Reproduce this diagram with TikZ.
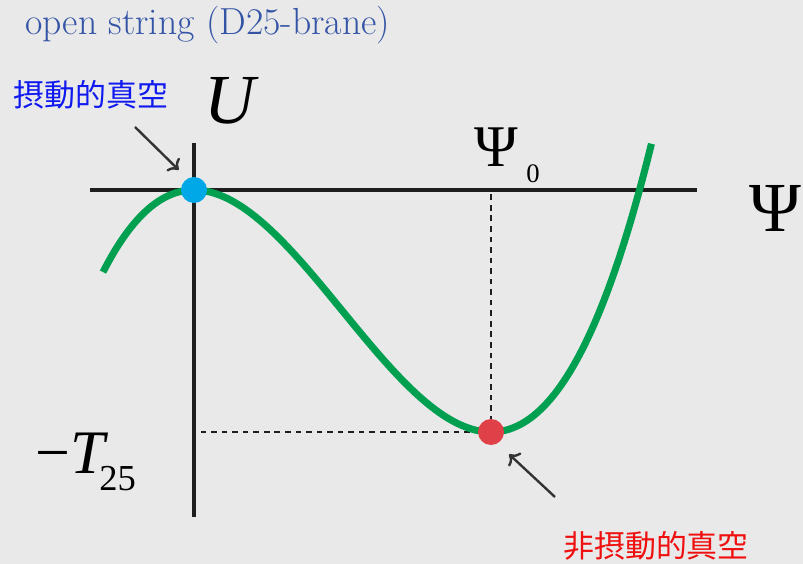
\documentclass[tikz,border=0pt]{standalone}
\usepackage{fontspec}
\newfontfamily\tms{Liberation Serif}
\newfontfamily\jpfont{Noto Sans CJK JP}
\usepackage{xcolor}
\usepackage{tikz}
\usetikzlibrary{arrows.meta, positioning, calc}
\definecolor{bggray}{RGB}{233,233,233}
\definecolor{titleblue}{RGB}{52,84,165}
\definecolor{curvegreen}{RGB}{0,160,80}
\definecolor{dotblue}{RGB}{0,168,232}
\definecolor{dotred}{RGB}{224,64,72}
\definecolor{axisblack}{RGB}{30,30,30}
\definecolor{jpblue}{RGB}{15,25,240}
\definecolor{jpred}{RGB}{240,15,15}

\begin{document}
\begin{tikzpicture}[
		x=0.025cm, y=-0.025cm,
		>={Computer Modern Rightarrow[length=2.2mm, width=4.6mm]},
		axis/.style={draw=axisblack, line width=2.8pt},
		guide/.style={draw=axisblack, line width=1.4pt,
			dash pattern=on 4pt off 3.5pt},
		curve/.style={draw=curvegreen, line width=5pt},
		pointer/.style={->, draw=black!80, line width=1.7pt},
		vac/.style={circle, inner sep=0pt, minimum size=0.66cm},
		glyph/.style={inner sep=0pt, anchor=base west, text=black},
		jplabel/.style={inner sep=0pt, font=\jpfont\fontsize{22}{22}\selectfont}
		]
		%--- background ------------------------------------------------------------
		\fill[bggray] (0,0) rectangle (803,564);
		\useasboundingbox (0,0) rectangle (803,564);
		
		%--- axes ------------------------------------------------------------------
		\coordinate (origin) at (194,190);
		\draw[axis] (90,190) -- (697,190);
		\draw[axis] (194,143) -- (194,517);
		
		%--- vacua -----------------------------------------------------------------
		\node[vac] (pv) at (origin) {};
		\node[vac] (npv) at (491,432) {};
		
		%--- guides to the minimum -------------------------------------------------
		\draw[guide] (npv.center) -- (npv |- origin);
		\draw[guide] (npv.center) -- (npv -| origin);
		
		%--- potential -------------------------------------------------------------
		\draw[curve] plot[domain=-0.3064:1.542, samples=120, smooth]
		({194+297*\x}, {190-242*(2*\x*\x*\x-3*\x*\x)});
		
		\fill[dotblue] (pv) circle[radius=13];
		\fill[dotred] (npv) circle[radius=13];
		
		%--- labels ----------------------------------------------------------------
		\node[inner sep=0pt, anchor=base west, text=titleblue,
		font=\fontsize{26.8}{30}\selectfont] (title) at (25,35)
		{open string (D25-brane)};
		
		\node[jplabel, text=jpblue] (pvlabel) at (91,95) {摂動的真空};
		\node[jplabel, text=jpred] (npvlabel) at (656,546) {非摂動的真空};
		
		\node[glyph, font=\tms\itshape\fontsize{50}{50}\selectfont] (ulabel)
		at (204,124) {U};
		\node[glyph, font=\tms\fontsize{50}{50}\selectfont] (psilabel)
		at (749,232) {Ψ};
		\node[glyph, font=\tms\fontsize{42}{42}\selectfont] (psizero)
		at (474,167) {Ψ};
		\node[glyph, font=\tms\fontsize{19}{19}\selectfont] (psizerosub)
		at (526,183) {0};
		\node[glyph, font=\tms\fontsize{44}{44}\selectfont] (tlabel)
		at (35,473) {−\textit{T}};
		\node[glyph, font=\tms\fontsize{26}{26}\selectfont] (tsub)
		at (99,490) {25};
		
		%--- pointers --------------------------------------------------------------
		\coordinate (pvtail) at (135,127);
		\coordinate (npvtail) at (555,497);
		\draw[pointer, shorten >=0.3cm] (pvtail) -- (pv.120);
		\draw[pointer, shorten >=0.39cm] (npvtail) -- (npv.-60);
	\end{tikzpicture}
\end{document}
